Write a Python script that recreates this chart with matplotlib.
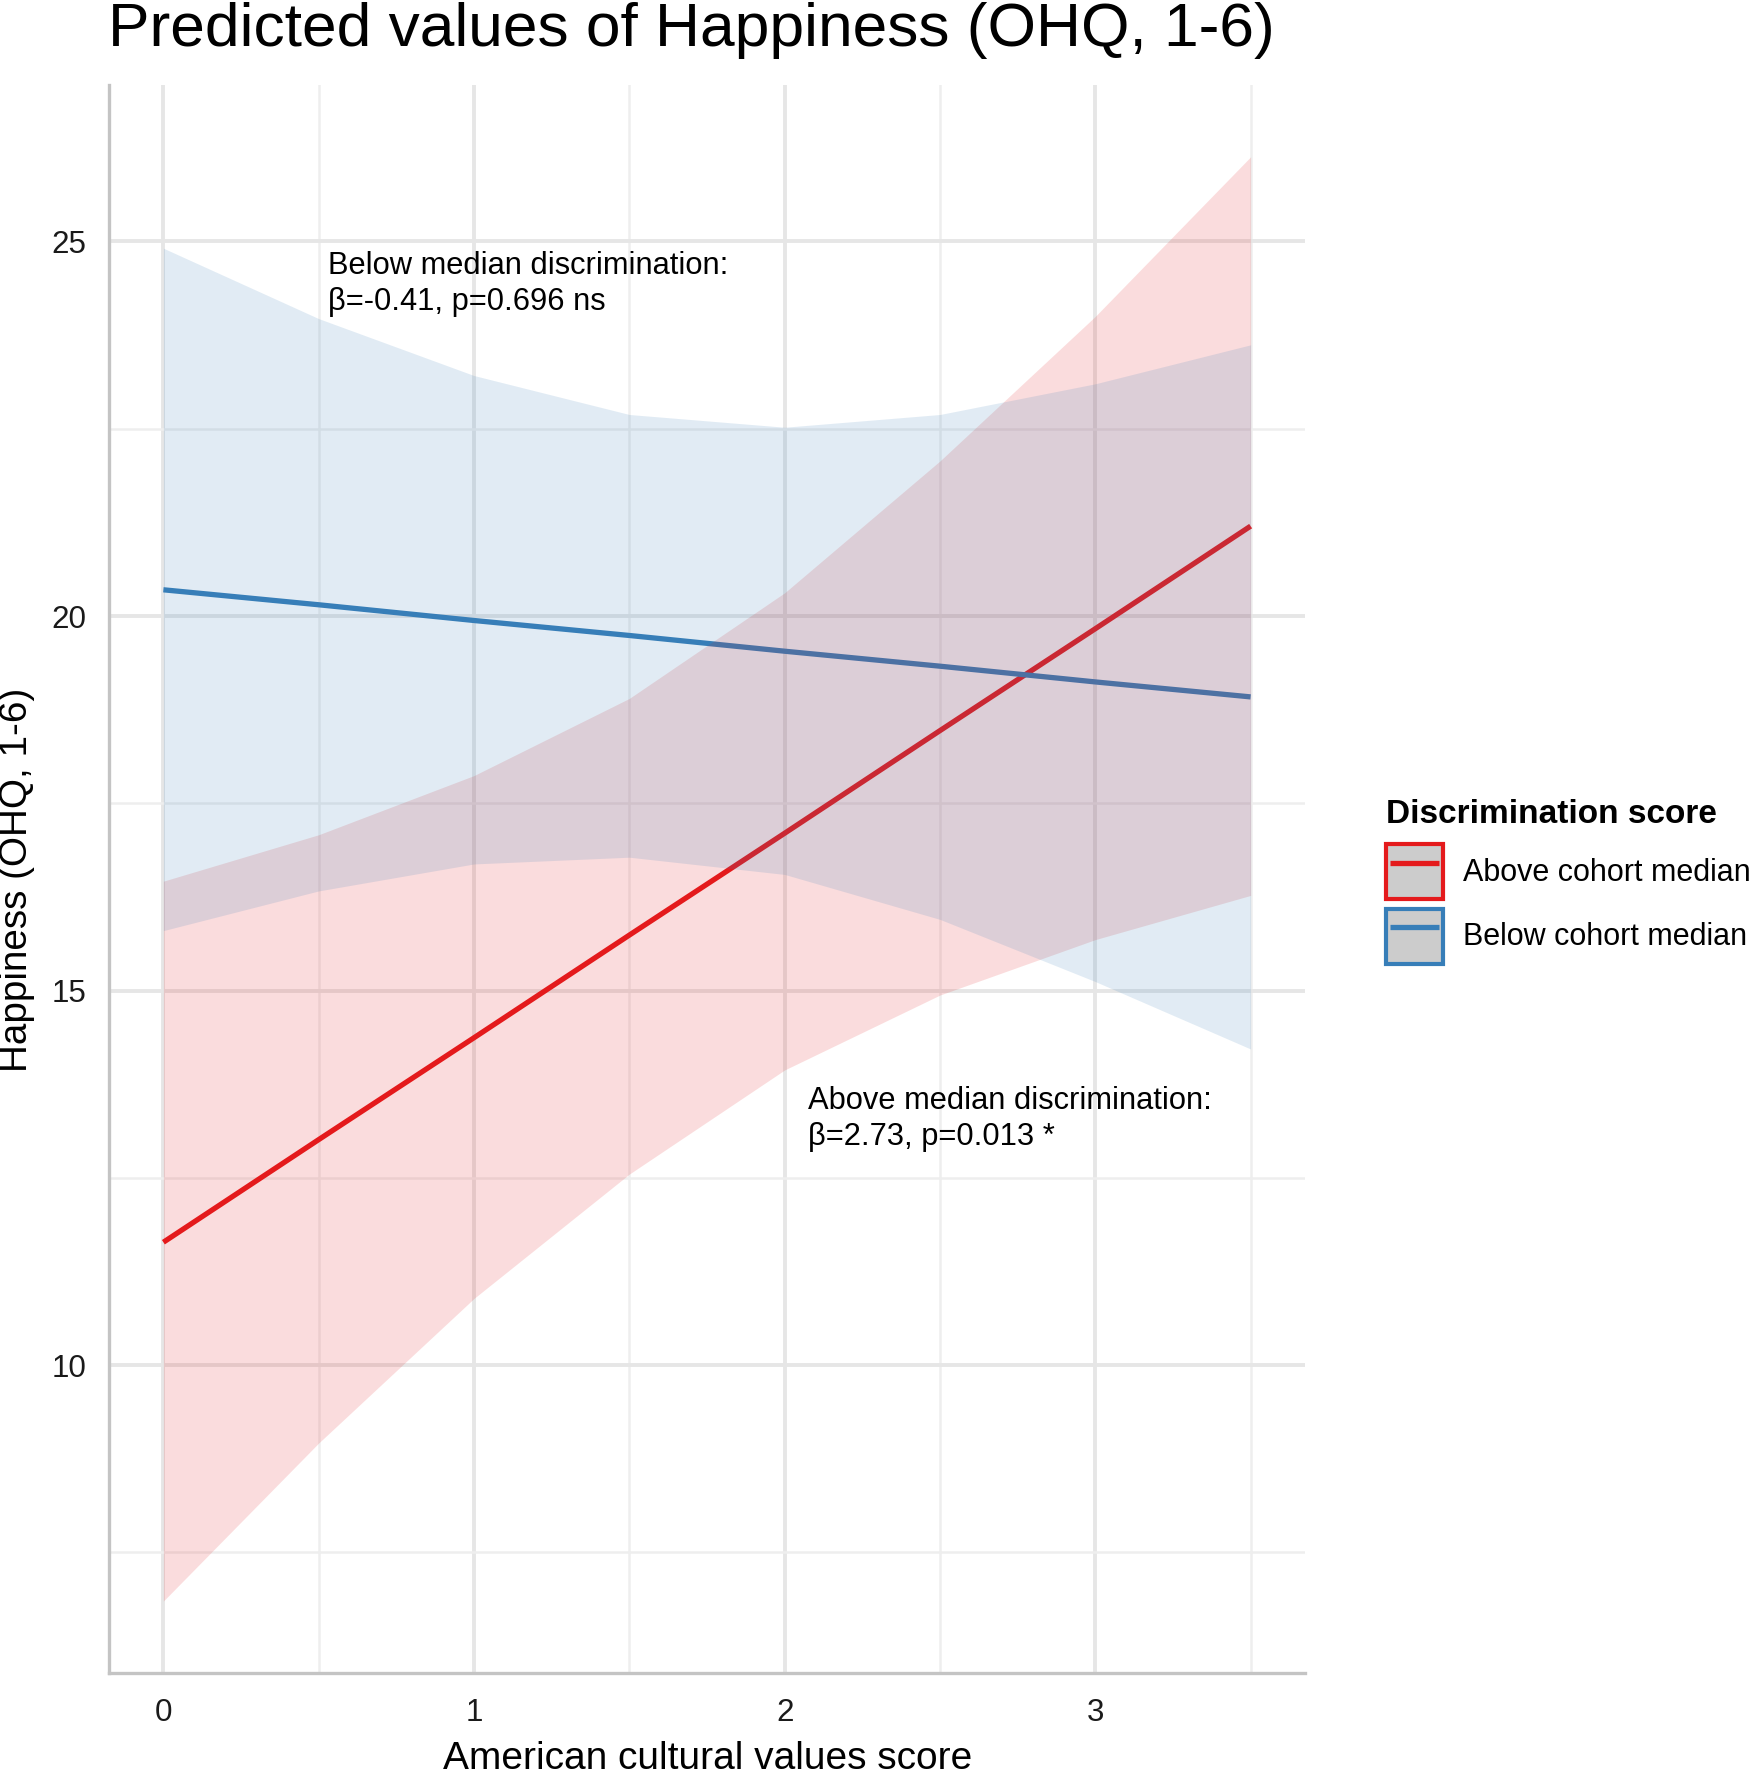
import matplotlib
matplotlib.use("Agg")
import matplotlib.pyplot as plt
from matplotlib.patches import Patch
from matplotlib.lines import Line2D
from matplotlib.legend_handler import HandlerLine2D

plt.rcParams['font.family'] = ['Liberation Sans', 'DejaVu Sans']

# ----------------------------
# Data
# ----------------------------
x_vals = [0, 0.5, 1, 1.5, 2, 2.5, 3, 3.5]

above_fit = [11.64, 13.01, 14.37, 15.74, 17.10, 18.47, 19.83, 21.20]
above_low = [6.85, 8.96, 10.89, 12.55, 13.94, 14.94, 15.68, 16.27]
above_high = [16.46, 17.08, 17.87, 18.90, 20.31, 22.07, 24.00, 26.13]

below_fit = [20.35, 20.15, 19.94, 19.74, 19.53, 19.33, 19.12, 18.92]
below_low = [15.80, 16.33, 16.69, 16.78, 16.55, 15.95, 15.12, 14.22]
below_high = [24.91, 23.97, 23.21, 22.69, 22.52, 22.69, 23.10, 23.62]

group_labels = ["Above cohort median", "Below cohort median"]
group_colors = ["#E41A1C", "#377EB8"]

x_ticks = [0, 1, 2, 3]
y_ticks = [10, 15, 20, 25]

# ----------------------------
# Figure
# ----------------------------
fig = plt.figure(figsize=(8.75, 8.845), dpi=200)
ax = fig.add_axes([0.0623, 0.0543, 0.6834, 0.8977])

series = [
    (above_fit, above_low, above_high),
    (below_fit, below_low, below_high),
]
# lines first, ribbons on top (as in the original)
for (fit, low, high), col in zip(series, group_colors):
    ax.plot(x_vals, fit, color=col, lw=1.9, zorder=2, solid_capstyle="butt")
for (fit, low, high), col in zip(series, group_colors):
    ax.fill_between(x_vals, low, high, color=col, alpha=0.15, lw=0, zorder=3)

ax.set_xlim(-0.175, 3.675)
ax.set_ylim(5.89, 27.09)
ax.set_xticks(x_ticks)
ax.set_yticks(y_ticks)
ax.set_xticks([0.5, 1.5, 2.5, 3.5], minor=True)
ax.set_yticks([7.5, 12.5, 17.5, 22.5], minor=True)
ax.tick_params(which="both", length=0, labelsize=11.3, colors="#1a1a1a")
ax.tick_params(axis="x", pad=9)
ax.tick_params(axis="y", pad=8)

ax.grid(which="major", color="#e6e6e6", lw=1.4, zorder=0)
ax.grid(which="minor", color="#eeeeee", lw=0.9, zorder=0)
ax.set_axisbelow(True)

for side in ["top", "right"]:
    ax.spines[side].set_visible(False)
for side in ["left", "bottom"]:
    ax.spines[side].set_color("#c4c4c4")
    ax.spines[side].set_linewidth(1.2)

ax.text(0.53, 24.87, "Below median discrimination:\n\u03b2=-0.41, p=0.696 ns",
        fontsize=11.1, va="top", ha="left", linespacing=1.25, zorder=5)
ax.text(2.076, 13.72, "Above median discrimination:\n\u03b2=2.73, p=0.013 *",
        fontsize=11.1, va="top", ha="left", linespacing=1.25, zorder=5)

fig.text(108 / 1750, 1 - 46 / 1769, "Predicted values of Happiness (OHQ, 1-6)",
         fontsize=22.4, ha="left", va="baseline")
fig.text(17 / 1750, 1 - 880 / 1769, "Happiness (OHQ, 1-6)", fontsize=13.9,
         rotation=90, ha="center", va="center")
fig.text(708 / 1750, 1 - 1741 / 1769, "American cultural values score", fontsize=14,
         ha="center", va="top")

# legend: grey box with coloured border and a line through it
handles = []
for col in group_colors:
    handles.append((Patch(facecolor="#cccccc", edgecolor=col, lw=1.5),
                    Line2D([], [], color=col, lw=1.9, solid_capstyle="butt")))
leg = fig.legend(handles, group_labels, loc="upper left",
                 bbox_to_anchor=(1386 / 1750, 1 - 799 / 1769),
                 frameon=False, fontsize=11, title="Discrimination score",
                 title_fontproperties={"weight": "bold", "size": 12},
                 handlelength=1.87, handleheight=2.39, handletextpad=0.65,
                 labelspacing=0.3, borderpad=0, borderaxespad=0,
                 handler_map={Line2D: HandlerLine2D(numpoints=2, marker_pad=0.12)})
leg._legend_box.align = "left"
leg._legend_box.sep = 5.2

fig.savefig("out.png", dpi=200)
